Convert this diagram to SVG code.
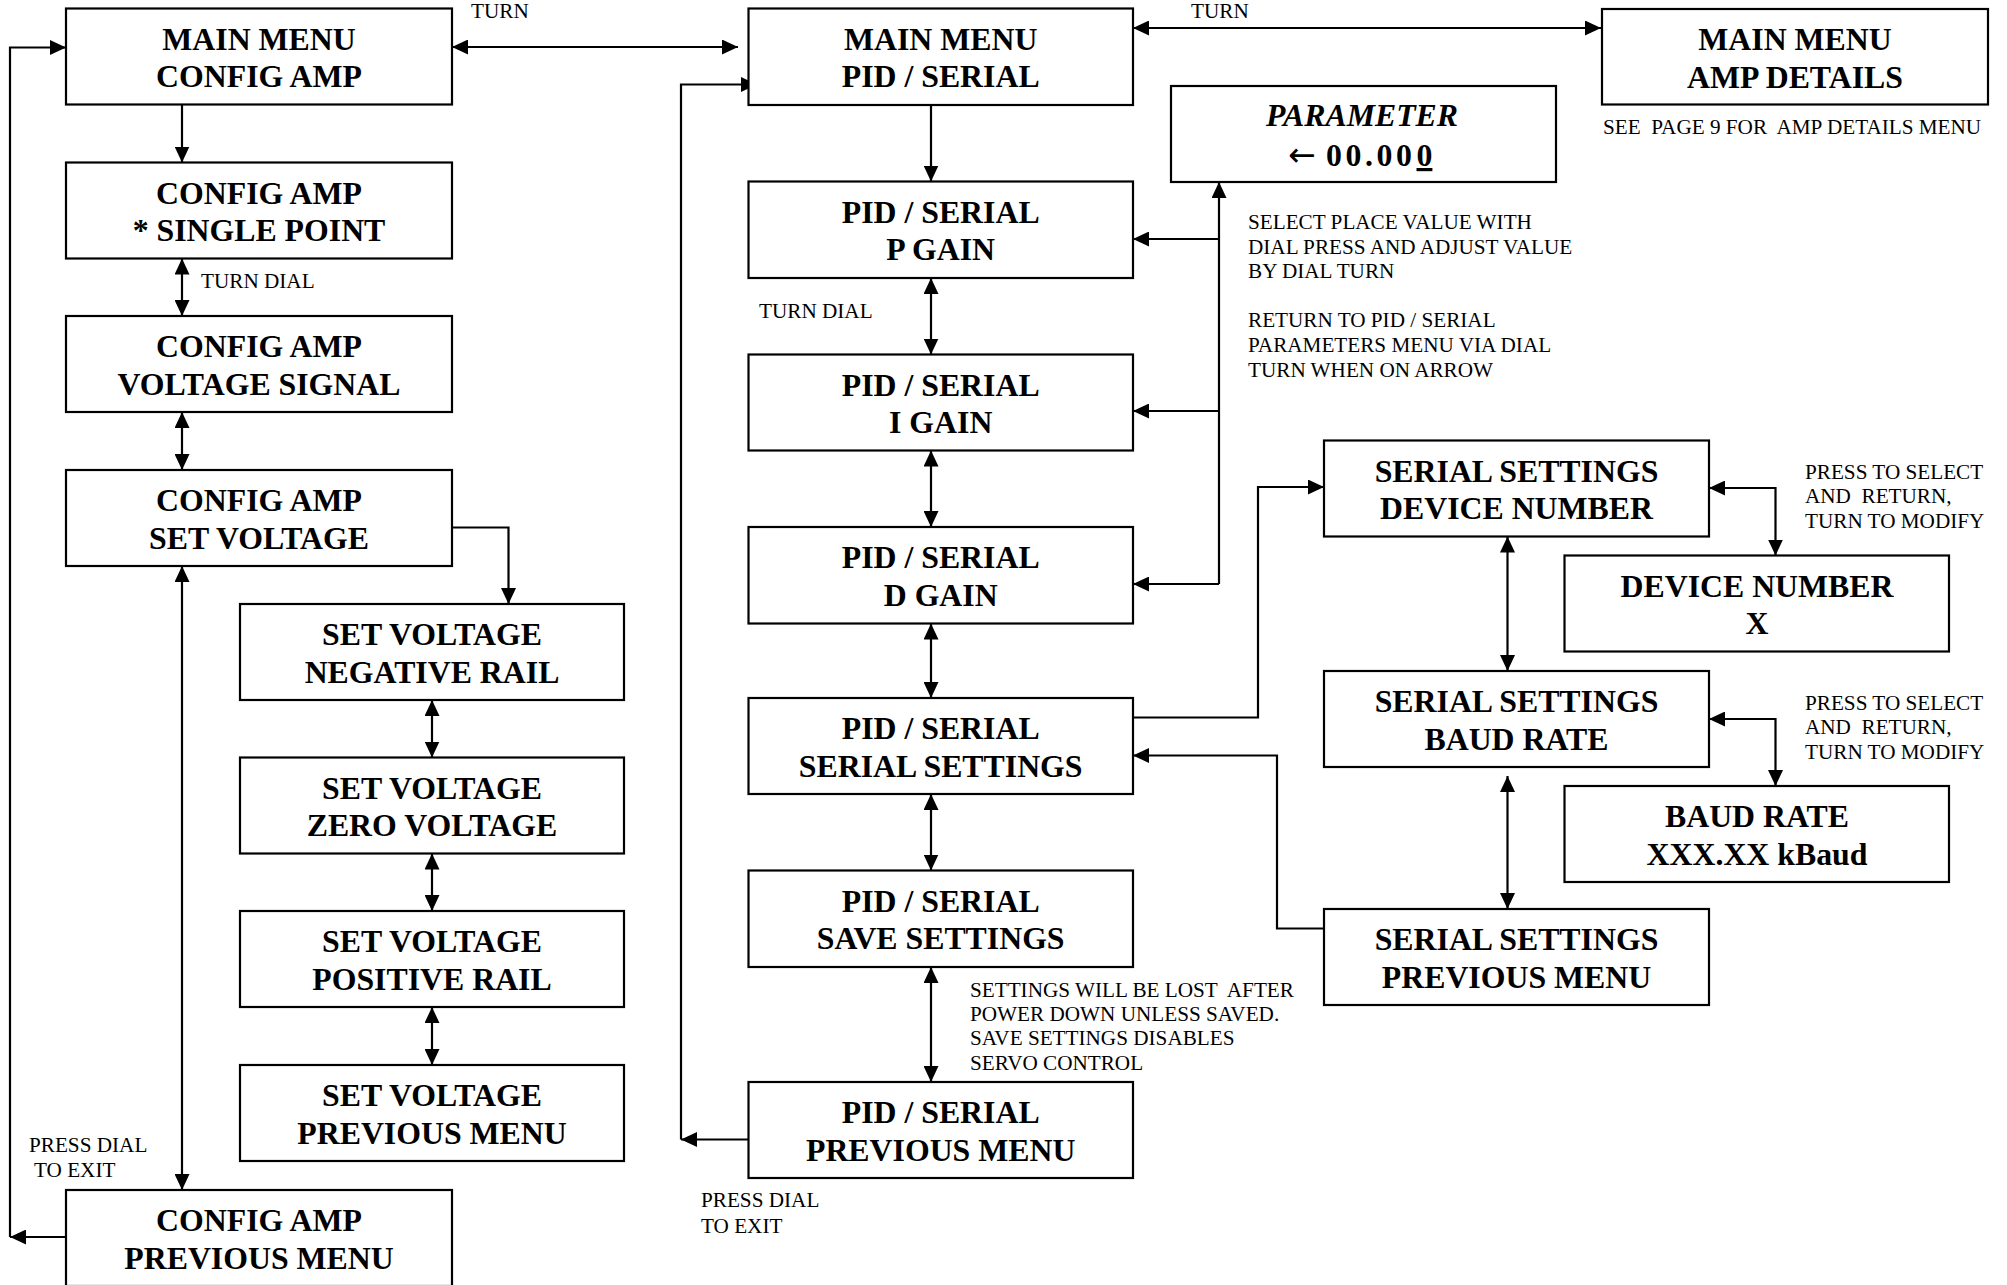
<svg xmlns="http://www.w3.org/2000/svg" width="2007" height="1285" viewBox="0 0 2007 1285">
<defs>
<style>
.box{fill:#fff;stroke:#000;stroke-width:2.2}
.bt{font-family:"Liberation Serif","Times New Roman",serif;font-weight:bold;font-size:31.8px;text-anchor:middle;fill:#000}
.lb{font-family:"Liberation Serif","Times New Roman",serif;font-size:21.2px;fill:#000;white-space:pre}
.c{fill:none;stroke:#000;stroke-width:2.2}
.e{marker-end:url(#ah)}
.b{marker-start:url(#ah);marker-end:url(#ah)}
</style>
<marker id="ah" markerUnits="userSpaceOnUse" viewBox="0 0 16 15" markerWidth="16" markerHeight="15" refX="16" refY="7.5" orient="auto-start-reverse">
<path d="M0,0 L16,7.5 L0,15 Z" fill="#000"/>
</marker>
</defs>
<rect width="2007" height="1285" fill="#fff"/>

<g id="connectors">
<path class="c e" d="M182,104.5 V162.5"/>
<path class="c b" d="M182,258.5 V316"/>
<path class="c b" d="M182,412 V470"/>
<path class="c b" d="M182,566 V1190"/>
<path class="c e" d="M452,527.5 H508.5 V604"/>
<path class="c b" d="M432,700 V757.5"/>
<path class="c b" d="M432,853.5 V911"/>
<path class="c b" d="M432,1007 V1065"/>
<path class="c e" d="M66,1237 H10"/>
<path class="c e" d="M10,1237 V47.5 H66"/>
<path class="c b" d="M452,47 H738"/>
<path class="c b" d="M1133,28 H1601"/>
<path class="c e" d="M931,105 V181.5"/>
<path class="c b" d="M931,278 V354.5"/>
<path class="c b" d="M931,450.5 V527"/>
<path class="c b" d="M931,623.5 V698"/>
<path class="c b" d="M931,794 V870.5"/>
<path class="c b" d="M931,967 V1082"/>
<path class="c e" d="M748.5,1139.5 H681"/>
<path class="c e" d="M681,1139.5 V84.5 H757"/>
<path class="c e" d="M1219,584 V182"/>
<path class="c e" d="M1219,239 H1133"/>
<path class="c e" d="M1219,411 H1133"/>
<path class="c e" d="M1219,584 H1133"/>
<path class="c e" d="M1133,717.5 H1258 V487 H1324"/>
<path class="c e" d="M1324,928.5 H1277 V755.5 H1133"/>
<path class="c b" d="M1709,488 H1775.5 V555.5"/>
<path class="c b" d="M1709,719 H1775.5 V786"/>
<path class="c b" d="M1507.5,536.5 V671"/>
<path class="c b" d="M1507.5,776 V909"/>
</g>

<g id="n1"><rect class="box" x="66" y="8.5" width="386" height="96"/><text class="bt" x="259" y="49.5">MAIN MENU</text><text class="bt" x="259" y="87">CONFIG AMP</text></g>
<g id="n2"><rect class="box" x="66" y="162.5" width="386" height="96"/><text class="bt" x="259" y="203.5">CONFIG AMP</text><text class="bt" x="259" y="241">* SINGLE POINT</text></g>
<g id="n3"><rect class="box" x="66" y="316" width="386" height="96"/><text class="bt" x="259" y="357">CONFIG AMP</text><text class="bt" x="259" y="394.5">VOLTAGE SIGNAL</text></g>
<g id="n4"><rect class="box" x="66" y="470" width="386" height="96"/><text class="bt" x="259" y="511">CONFIG AMP</text><text class="bt" x="259" y="548.5">SET VOLTAGE</text></g>
<g id="n5"><rect class="box" x="66" y="1190" width="386" height="96"/><text class="bt" x="259" y="1231">CONFIG AMP</text><text class="bt" x="259" y="1268.5">PREVIOUS MENU</text></g>

<g id="sv1"><rect class="box" x="240" y="604" width="384" height="96"/><text class="bt" x="432" y="645">SET VOLTAGE</text><text class="bt" x="432" y="682.5">NEGATIVE RAIL</text></g>
<g id="sv2"><rect class="box" x="240" y="757.5" width="384" height="96"/><text class="bt" x="432" y="798.5">SET VOLTAGE</text><text class="bt" x="432" y="836">ZERO VOLTAGE</text></g>
<g id="sv3"><rect class="box" x="240" y="911" width="384" height="96"/><text class="bt" x="432" y="952">SET VOLTAGE</text><text class="bt" x="432" y="989.5">POSITIVE RAIL</text></g>
<g id="sv4"><rect class="box" x="240" y="1065" width="384" height="96"/><text class="bt" x="432" y="1106">SET VOLTAGE</text><text class="bt" x="432" y="1143.5">PREVIOUS MENU</text></g>

<g id="m1"><rect class="box" x="748.5" y="8.5" width="384.5" height="96.5"/><text class="bt" x="940.7" y="49.5">MAIN MENU</text><text class="bt" x="940.7" y="87">PID / SERIAL</text></g>
<g id="m2"><rect class="box" x="748.5" y="181.5" width="384.5" height="96.5"/><text class="bt" x="940.7" y="222.5">PID / SERIAL</text><text class="bt" x="940.7" y="260">P GAIN</text></g>
<g id="m3"><rect class="box" x="748.5" y="354.5" width="384.5" height="96"/><text class="bt" x="940.7" y="395.5">PID / SERIAL</text><text class="bt" x="940.7" y="433">I GAIN</text></g>
<g id="m4"><rect class="box" x="748.5" y="527" width="384.5" height="96.5"/><text class="bt" x="940.7" y="568">PID / SERIAL</text><text class="bt" x="940.7" y="605.5">D GAIN</text></g>
<g id="m5"><rect class="box" x="748.5" y="698" width="384.5" height="96"/><text class="bt" x="940.7" y="739">PID / SERIAL</text><text class="bt" x="940.7" y="776.5">SERIAL SETTINGS</text></g>
<g id="m6"><rect class="box" x="748.5" y="870.5" width="384.5" height="96.5"/><text class="bt" x="940.7" y="911.5">PID / SERIAL</text><text class="bt" x="940.7" y="949">SAVE SETTINGS</text></g>
<g id="m7"><rect class="box" x="748.5" y="1082" width="384.5" height="96"/><text class="bt" x="940.7" y="1123">PID / SERIAL</text><text class="bt" x="940.7" y="1160.5">PREVIOUS MENU</text></g>

<g id="param"><rect class="box" x="1171" y="86" width="385" height="96"/><text class="bt" x="1362" y="125.7" font-style="italic" font-size="31px">PARAMETER</text><text class="bt" x="1288" y="166" font-size="31px" style="text-anchor:start"><tspan font-family="'DejaVu Sans',sans-serif" font-weight="normal" font-size="33px">←</tspan><tspan x="1326" letter-spacing="3.6">00.00</tspan><tspan x="1416.5" style="text-decoration:underline">0</tspan></text></g>

<g id="amp"><rect class="box" x="1602" y="9" width="386" height="95.5"/><text class="bt" x="1795" y="50">MAIN MENU</text><text class="bt" x="1795" y="87.5">AMP DETAILS</text></g>

<g id="s1"><rect class="box" x="1324" y="440.5" width="385" height="96"/><text class="bt" x="1516.5" y="481.5">SERIAL SETTINGS</text><text class="bt" x="1516.5" y="519">DEVICE NUMBER</text></g>
<g id="s2"><rect class="box" x="1324" y="671" width="385" height="96"/><text class="bt" x="1516.5" y="712">SERIAL SETTINGS</text><text class="bt" x="1516.5" y="749.5">BAUD RATE</text></g>
<g id="s3"><rect class="box" x="1324" y="909" width="385" height="96"/><text class="bt" x="1516.5" y="950">SERIAL SETTINGS</text><text class="bt" x="1516.5" y="987.5">PREVIOUS MENU</text></g>
<g id="dn"><rect class="box" x="1564.5" y="555.5" width="384.5" height="96"/><text class="bt" x="1757" y="596.5">DEVICE NUMBER</text><text class="bt" x="1757" y="634">X</text></g>
<g id="baud"><rect class="box" x="1564.5" y="786" width="384.5" height="96"/><text class="bt" x="1757" y="827">BAUD RATE</text><text class="bt" x="1757" y="864.5">XXX.XX kBaud</text></g>

<g id="labels">
<text class="lb" x="471" y="18">TURN</text>
<text class="lb" x="1191" y="18">TURN</text>
<text class="lb" x="201" y="288">TURN DIAL</text>
<text class="lb" x="759" y="317.5">TURN DIAL</text>
<text class="lb" x="29" y="1152">PRESS DIAL</text>
<text class="lb" x="34" y="1177">TO EXIT</text>
<text class="lb" x="701" y="1207">PRESS DIAL</text>
<text class="lb" x="701" y="1233">TO EXIT</text>
<text class="lb" x="1603" y="134" xml:space="preserve">SEE  PAGE 9 FOR  AMP DETAILS MENU</text>
<text class="lb" x="1248" y="229">SELECT PLACE VALUE WITH</text>
<text class="lb" x="1248" y="253.5">DIAL PRESS AND ADJUST VALUE</text>
<text class="lb" x="1248" y="278">BY DIAL TURN</text>
<text class="lb" x="1248" y="327">RETURN TO PID / SERIAL</text>
<text class="lb" x="1248" y="351.5">PARAMETERS MENU VIA DIAL</text>
<text class="lb" x="1248" y="377">TURN WHEN ON ARROW</text>
<text class="lb" x="1805" y="478.5">PRESS TO SELECT</text>
<text class="lb" x="1805" y="503" xml:space="preserve">AND  RETURN,</text>
<text class="lb" x="1805" y="528">TURN TO MODIFY</text>
<text class="lb" x="1805" y="710">PRESS TO SELECT</text>
<text class="lb" x="1805" y="734" xml:space="preserve">AND  RETURN,</text>
<text class="lb" x="1805" y="759">TURN TO MODIFY</text>
<text class="lb" x="970" y="996.5" xml:space="preserve">SETTINGS WILL BE LOST  AFTER</text>
<text class="lb" x="970" y="1021">POWER DOWN UNLESS SAVED.</text>
<text class="lb" x="970" y="1045">SAVE SETTINGS DISABLES</text>
<text class="lb" x="970" y="1070">SERVO CONTROL</text>
</g>
</svg>
